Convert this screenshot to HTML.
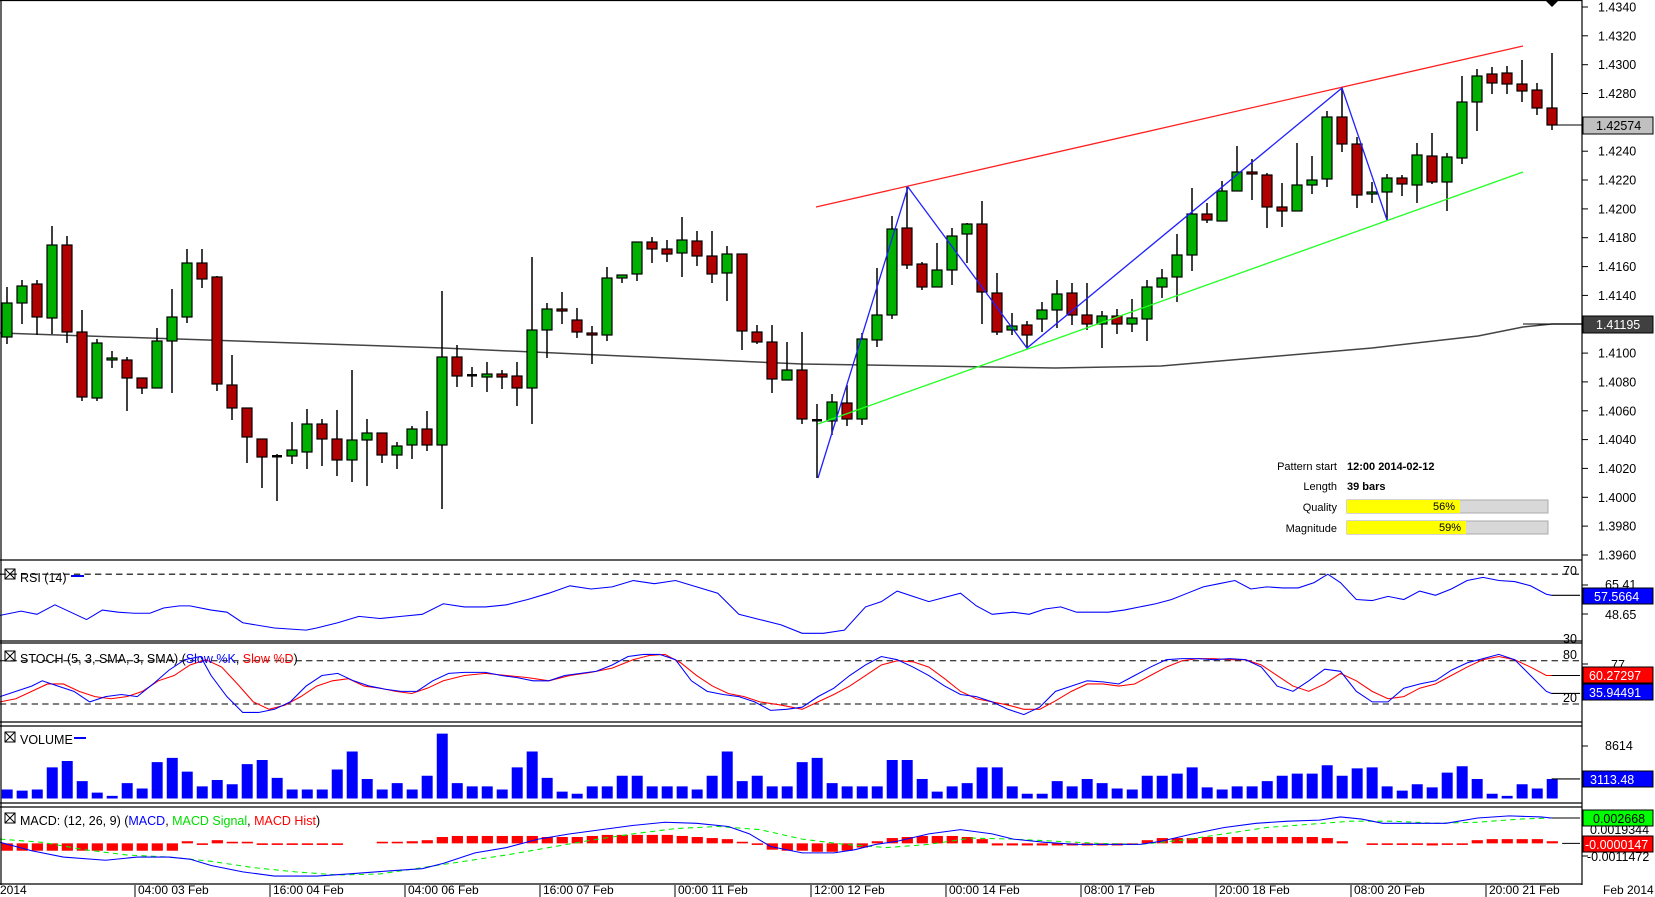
<!DOCTYPE html>
<html><head><meta charset="utf-8">
<style>
html,body{margin:0;padding:0;background:#fff;}
svg{display:block;font-family:"Liberation Sans",sans-serif;}
</style></head>
<body>
<svg width="1655" height="897" viewBox="0 0 1655 897" xmlns="http://www.w3.org/2000/svg">
<rect x="0" y="0" width="1655" height="897" fill="#fff"/>
<polyline points="0,333 443,348 802,364 1055,368 1161,366 1372,348 1478,336 1523,327 1552,324 1582,324" fill="none" stroke="#444" stroke-width="1.5"/>
<path fill="none" stroke="#000" stroke-width="1.5" d="M7 287V344M22 280V324M37 280V335M52 226V334M67 236V343M82 310V401M97 339V401M112 351V368M127 357V411M142 378V394M157 328V388M172 289V393M187 249V323M202 249V288M217 276V391M232 355V420M247 408V463M262 439V488M277 454V501M292 422V464M307 409V469M322 419V466M337 410V476M352 370V482M367 419V486M382 433V463M397 442V469M412 426V459M427 411V451M442 291V509M457 345V387M472 367V387M487 362V392M502 370V389M517 362V406M532 257V424M547 303V358M562 292V324M577 308V338M592 326V364M607 267V341M622 275V283M637 242V281M652 237V263M667 240V262M682 217V277M697 231V266M712 231V283M727 246V301M742 254V350M757 325V344M772 325V393M787 342V380M802 332V424M817 404V478M832 394V435M847 385V426M862 333V425M877 268V347M892 216V319M907 187V269M922 262V290M937 243V287M952 228V285M967 223V263M982 201V324M997 273V335M1012 313V335M1027 321V348M1042 302V332M1057 280V328M1072 283V325M1087 283V330M1102 311V348M1117 309V334M1132 299V332M1147 280V341M1162 269V298M1177 234V302M1192 188V271M1207 203V223M1222 181V221M1237 146V191M1252 159V200M1267 173V228M1282 183V227M1297 143V211M1312 156V194M1327 111V187M1342 87V152M1357 137V208M1372 182V203M1387 174V220M1402 175V196M1417 143V203M1432 133V184M1447 153V211M1462 76V164M1477 69V131M1492 67V94M1507 66V94M1522 60V102M1537 83V115M1552 53V130"/>
<g fill="#00b000" stroke="#000" stroke-width="1.2">
<rect x="2" y="303" width="10" height="34"/><rect x="17" y="286" width="10" height="17"/><rect x="47" y="245" width="10" height="73"/><rect x="92" y="343" width="10" height="55"/><rect x="107" y="358" width="10" height="2"/><rect x="152" y="341" width="10" height="47"/><rect x="167" y="317" width="10" height="24"/><rect x="182" y="263" width="10" height="54"/><rect x="287" y="450" width="10" height="6"/><rect x="302" y="424" width="10" height="28"/><rect x="347" y="440" width="10" height="20"/><rect x="362" y="433" width="10" height="7"/><rect x="392" y="446" width="10" height="9"/><rect x="407" y="429" width="10" height="16"/><rect x="437" y="357" width="10" height="88"/><rect x="482" y="374" width="10" height="3"/><rect x="527" y="330" width="10" height="58"/><rect x="542" y="309" width="10" height="21"/><rect x="602" y="278" width="10" height="57"/><rect x="617" y="275" width="10" height="3"/><rect x="632" y="242" width="10" height="32"/><rect x="677" y="240" width="10" height="13"/><rect x="722" y="254" width="10" height="19"/><rect x="782" y="370" width="10" height="10"/><rect x="827" y="402" width="10" height="19"/><rect x="857" y="339" width="10" height="80"/><rect x="872" y="315" width="10" height="25"/><rect x="887" y="229" width="10" height="86"/><rect x="932" y="270" width="10" height="17"/><rect x="947" y="236" width="10" height="34"/><rect x="962" y="224" width="10" height="10"/><rect x="1007" y="326" width="10" height="4"/><rect x="1037" y="310" width="10" height="9"/><rect x="1052" y="294" width="10" height="16"/><rect x="1097" y="316" width="10" height="8"/><rect x="1127" y="318" width="10" height="6"/><rect x="1142" y="287" width="10" height="32"/><rect x="1157" y="278" width="10" height="9"/><rect x="1172" y="255" width="10" height="22"/><rect x="1187" y="214" width="10" height="41"/><rect x="1217" y="191" width="10" height="30"/><rect x="1232" y="172" width="10" height="19"/><rect x="1292" y="185" width="10" height="26"/><rect x="1307" y="180" width="10" height="5"/><rect x="1322" y="117" width="10" height="62"/><rect x="1367" y="192" width="10" height="2"/><rect x="1382" y="178" width="10" height="14"/><rect x="1412" y="155" width="10" height="30"/><rect x="1442" y="157" width="10" height="25"/><rect x="1457" y="102" width="10" height="56"/><rect x="1472" y="76" width="10" height="26"/>
</g>
<g fill="#b00000" stroke="#000" stroke-width="1.2">
<rect x="32" y="284" width="10" height="33"/><rect x="62" y="245" width="10" height="87"/><rect x="77" y="332" width="10" height="65"/><rect x="122" y="360" width="10" height="18"/><rect x="137" y="378" width="10" height="10"/><rect x="197" y="263" width="10" height="16"/><rect x="212" y="277" width="10" height="107"/><rect x="227" y="385" width="10" height="23"/><rect x="242" y="408" width="10" height="29"/><rect x="257" y="439" width="10" height="18"/><rect x="317" y="424" width="10" height="15"/><rect x="332" y="439" width="10" height="21"/><rect x="377" y="433" width="10" height="22"/><rect x="422" y="429" width="10" height="16"/><rect x="452" y="357" width="10" height="19"/><rect x="497" y="374" width="10" height="3"/><rect x="512" y="376" width="10" height="12"/><rect x="557" y="309" width="10" height="2"/><rect x="572" y="320" width="10" height="12"/><rect x="587" y="333" width="10" height="2"/><rect x="647" y="242" width="10" height="7"/><rect x="662" y="249" width="10" height="5"/><rect x="692" y="241" width="10" height="15"/><rect x="707" y="256" width="10" height="18"/><rect x="737" y="254" width="10" height="77"/><rect x="752" y="332" width="10" height="10"/><rect x="767" y="342" width="10" height="37"/><rect x="797" y="370" width="10" height="49"/><rect x="842" y="403" width="10" height="16"/><rect x="902" y="228" width="10" height="37"/><rect x="917" y="264" width="10" height="23"/><rect x="977" y="224" width="10" height="68"/><rect x="992" y="293" width="10" height="39"/><rect x="1022" y="325" width="10" height="10"/><rect x="1067" y="293" width="10" height="22"/><rect x="1082" y="315" width="10" height="9"/><rect x="1112" y="316" width="10" height="8"/><rect x="1202" y="214" width="10" height="6"/><rect x="1247" y="172" width="10" height="2"/><rect x="1262" y="175" width="10" height="32"/><rect x="1277" y="207" width="10" height="4"/><rect x="1337" y="117" width="10" height="27"/><rect x="1352" y="144" width="10" height="51"/><rect x="1397" y="178" width="10" height="6"/><rect x="1427" y="156" width="10" height="26"/><rect x="1487" y="74" width="10" height="9"/><rect x="1502" y="73" width="10" height="11"/><rect x="1517" y="84" width="10" height="7"/><rect x="1532" y="90" width="10" height="18"/><rect x="1547" y="108" width="10" height="17"/>
</g>
<g fill="#000"><rect x="272" y="455" width="10" height="2.5"/><rect x="467" y="374" width="10" height="2.5"/><rect x="812" y="419" width="10" height="2.5"/></g>
<line x1="816" y1="207" x2="1523" y2="46" stroke="#ff2020" stroke-width="1.3"/>
<line x1="818" y1="424" x2="1523" y2="172" stroke="#20ff20" stroke-width="1.3"/>
<polyline points="818,478 908,187 1027,348 1342,88 1387,220" fill="none" stroke="#2020ff" stroke-width="1.3"/>
<line x1="1552" y1="125" x2="1582" y2="125" stroke="#000"/><line x1="1523" y1="324" x2="1582" y2="324" stroke="#000"/>

<!-- indicators (scaled coords) -->
<g transform="scale(1.0555)">
<line x1="0" y1="544" x2="1497" y2="544" stroke="#000" stroke-dasharray="6,4"/>
<polyline fill="none" stroke="#0000ff" stroke-width="1" points="0,583 20,579 35,582 52,573 67,580 82,587 97,578 112,580 127,581 142,581 155,576 170,574 180,574 200,578 215,580 230,590 260,595 290,597 300,595 320,590 340,584 360,586 380,584 400,582 420,572 440,575 460,575 480,573 500,568 520,562 540,555 560,558 580,556 600,550 620,553 640,550 660,556 680,562 700,582 720,587 740,592 760,600 780,600 800,597 820,575 835,570 850,560 865,565 880,570 895,566 910,562 925,574 940,582 960,580 975,582 990,577 1005,575 1020,580 1035,580 1050,580 1065,578 1080,575 1095,572 1110,568 1125,562 1140,556 1155,553 1170,550 1185,558 1200,556 1215,557 1230,557 1245,552 1258,544 1270,552 1285,568 1300,569 1315,565 1330,568 1345,560 1360,564 1375,558 1390,550 1405,547 1420,550 1435,551 1450,555 1465,563 1470,564"/>
<line x1="1470" y1="564" x2="1497" y2="564" stroke="#000"/>
<line x1="0" y1="626" x2="1497" y2="626" stroke="#000" stroke-dasharray="6,4"/><line x1="0" y1="667" x2="1497" y2="667" stroke="#000" stroke-dasharray="6,4"/>
<polyline fill="none" stroke="#ff0000" stroke-width="1" points="0,665 15,662 30,655 45,648 60,648 75,655 90,660 105,662 120,660 135,655 150,645 165,640 180,630 195,625 210,632 225,648 240,665 255,672 270,668 285,660 300,650 315,645 330,643 345,650 360,652 375,655 390,657 405,652 420,645 440,640 460,638 480,640 500,642 520,645 540,640 560,637 580,633 600,625 615,621 630,620 645,628 660,640 675,650 690,657 705,660 720,665 740,668 760,672 775,665 790,658 805,650 820,640 835,630 850,626 865,627 880,632 895,643 910,655 925,662 940,665 955,668 970,672 985,672 1000,664 1015,655 1030,648 1045,648 1060,650 1075,648 1090,640 1105,632 1120,626 1135,624 1150,624 1165,625 1180,625 1195,630 1210,640 1225,650 1240,655 1255,648 1270,638 1285,645 1300,655 1315,662 1330,660 1345,652 1360,648 1375,640 1390,632 1405,625 1420,622 1435,625 1450,632 1465,640 1470,640"/>
<polyline fill="none" stroke="#0000ff" stroke-width="1" points="0,660 15,655 30,650 40,645 55,650 70,655 85,665 100,660 115,658 130,660 145,648 160,635 175,625 190,622 200,640 215,660 230,675 245,675 260,672 275,665 290,650 305,640 320,638 335,645 350,650 365,653 380,655 395,655 410,645 425,638 440,637 460,637 475,640 490,642 505,645 520,645 535,640 550,638 565,636 580,630 595,622 610,620 625,620 640,625 655,645 670,655 685,658 700,660 715,665 730,673 745,672 760,670 775,660 790,652 805,640 820,630 835,622 850,625 865,632 880,640 895,650 910,658 925,660 940,665 955,672 970,677 985,670 1000,655 1015,650 1030,645 1045,646 1060,648 1075,640 1090,632 1105,625 1120,624 1135,624 1150,625 1165,624 1180,625 1195,632 1210,650 1225,655 1240,645 1255,634 1270,636 1285,655 1300,665 1315,665 1330,652 1345,648 1360,645 1375,635 1390,628 1405,624 1420,620 1435,625 1450,640 1465,655 1470,657"/>
<line x1="1470" y1="640" x2="1497" y2="640" stroke="#000"/><line x1="1470" y1="657" x2="1497" y2="657" stroke="#000"/>
<path fill="#0000ff" d="M1.6 748h10.4V756.5h-10.4zM15.8 749h10.4V756.5h-10.4zM30.1 748h10.4V756.5h-10.4zM44.3 727h10.4V756.5h-10.4zM58.5 721h10.4V756.5h-10.4zM72.7 740h10.4V756.5h-10.4zM86.9 751h10.4V756.5h-10.4zM101.1 754h10.4V756.5h-10.4zM115.3 742h10.4V756.5h-10.4zM129.5 747h10.4V756.5h-10.4zM143.7 722h10.4V756.5h-10.4zM158 718h10.4V756.5h-10.4zM172.2 731h10.4V756.5h-10.4zM186.4 745h10.4V756.5h-10.4zM200.6 739h10.4V756.5h-10.4zM214.8 743h10.4V756.5h-10.4zM229 724h10.4V756.5h-10.4zM243.2 720h10.4V756.5h-10.4zM257.4 737h10.4V756.5h-10.4zM271.6 748h10.4V756.5h-10.4zM285.9 748h10.4V756.5h-10.4zM300.1 748h10.4V756.5h-10.4zM314.3 729h10.4V756.5h-10.4zM328.5 712h10.4V756.5h-10.4zM342.7 738h10.4V756.5h-10.4zM356.9 748h10.4V756.5h-10.4zM371.1 742h10.4V756.5h-10.4zM385.3 748h10.4V756.5h-10.4zM399.5 735h10.4V756.5h-10.4zM413.8 695h10.4V756.5h-10.4zM428 742h10.4V756.5h-10.4zM442.2 745h10.4V756.5h-10.4zM456.4 745h10.4V756.5h-10.4zM470.6 748h10.4V756.5h-10.4zM484.8 727h10.4V756.5h-10.4zM499 712h10.4V756.5h-10.4zM513.2 737h10.4V756.5h-10.4zM527.4 750h10.4V756.5h-10.4zM541.6 752h10.4V756.5h-10.4zM555.9 745h10.4V756.5h-10.4zM570.1 745h10.4V756.5h-10.4zM584.3 735h10.4V756.5h-10.4zM598.5 735h10.4V756.5h-10.4zM612.7 745h10.4V756.5h-10.4zM626.9 745h10.4V756.5h-10.4zM641.1 745h10.4V756.5h-10.4zM655.3 748h10.4V756.5h-10.4zM669.5 735h10.4V756.5h-10.4zM683.8 712h10.4V756.5h-10.4zM698 740h10.4V756.5h-10.4zM712.2 735h10.4V756.5h-10.4zM726.4 745h10.4V756.5h-10.4zM740.6 745h10.4V756.5h-10.4zM754.8 722h10.4V756.5h-10.4zM769 718h10.4V756.5h-10.4zM783.2 742h10.4V756.5h-10.4zM797.4 745h10.4V756.5h-10.4zM811.7 745h10.4V756.5h-10.4zM825.9 745h10.4V756.5h-10.4zM840.1 720h10.4V756.5h-10.4zM854.3 720h10.4V756.5h-10.4zM868.5 738h10.4V756.5h-10.4zM882.7 750h10.4V756.5h-10.4zM896.9 745h10.4V756.5h-10.4zM911.1 742h10.4V756.5h-10.4zM925.3 727h10.4V756.5h-10.4zM939.6 727h10.4V756.5h-10.4zM953.8 745h10.4V756.5h-10.4zM968 752h10.4V756.5h-10.4zM982.2 752h10.4V756.5h-10.4zM996.4 740h10.4V756.5h-10.4zM1010.6 745h10.4V756.5h-10.4zM1024.8 738h10.4V756.5h-10.4zM1039 742h10.4V756.5h-10.4zM1053.2 747h10.4V756.5h-10.4zM1067.5 748h10.4V756.5h-10.4zM1081.7 735h10.4V756.5h-10.4zM1095.9 735h10.4V756.5h-10.4zM1110.1 733h10.4V756.5h-10.4zM1124.3 727h10.4V756.5h-10.4zM1138.5 746h10.4V756.5h-10.4zM1152.7 748h10.4V756.5h-10.4zM1166.9 745h10.4V756.5h-10.4zM1181.1 745h10.4V756.5h-10.4zM1195.4 740h10.4V756.5h-10.4zM1209.6 735h10.4V756.5h-10.4zM1223.8 733h10.4V756.5h-10.4zM1238 733h10.4V756.5h-10.4zM1252.2 725h10.4V756.5h-10.4zM1266.4 735h10.4V756.5h-10.4zM1280.6 728h10.4V756.5h-10.4zM1294.8 727h10.4V756.5h-10.4zM1309 745h10.4V756.5h-10.4zM1323.3 749h10.4V756.5h-10.4zM1337.5 743h10.4V756.5h-10.4zM1351.7 746h10.4V756.5h-10.4zM1365.9 732h10.4V756.5h-10.4zM1380.1 726h10.4V756.5h-10.4zM1394.3 738h10.4V756.5h-10.4zM1408.5 752h10.4V756.5h-10.4zM1422.7 754h10.4V756.5h-10.4zM1436.9 743h10.4V756.5h-10.4zM1451.2 747h10.4V756.5h-10.4zM1465.4 738h10.4V756.5h-10.4z"/>
<line x1="1470" y1="738" x2="1497" y2="738" stroke="#000"/>
<g fill="#ff0000">
<rect x="1.6" y="799" width="10.6" height="7"/><rect x="15.8" y="799" width="10.6" height="7"/><rect x="30.1" y="799" width="10.6" height="7"/><rect x="44.3" y="799" width="10.6" height="7"/><rect x="58.5" y="799" width="10.6" height="7"/><rect x="72.7" y="799" width="10.6" height="7"/><rect x="86.9" y="799" width="10.6" height="7"/><rect x="101.1" y="799" width="10.6" height="7"/><rect x="115.3" y="799" width="10.6" height="7"/><rect x="129.5" y="799" width="10.6" height="7"/><rect x="143.7" y="799" width="10.6" height="7"/><rect x="158" y="799" width="10.6" height="7"/>
<rect x="172.2" y="797" width="10.6" height="2"/><rect x="186.4" y="799" width="10.6" height="1.5"/><rect x="200.6" y="796" width="10.6" height="3"/><rect x="214.8" y="797.5" width="10.6" height="1.5"/><rect x="229" y="797.5" width="10.6" height="1.5"/>
<rect x="243.2" y="799" width="10.6" height="1.5"/><rect x="257.4" y="799" width="10.6" height="1.5"/><rect x="271.6" y="799" width="10.6" height="1.5"/><rect x="285.9" y="799" width="10.6" height="1.5"/><rect x="300.1" y="799" width="10.6" height="1.5"/><rect x="314.3" y="799" width="10.6" height="1.5"/>
<rect x="356.9" y="797.5" width="10.6" height="1.5"/><rect x="371.1" y="797.5" width="10.6" height="1.5"/><rect x="385.3" y="797" width="10.6" height="2"/><rect x="399.5" y="796" width="10.6" height="3"/><rect x="413.8" y="793" width="10.6" height="6"/>
<rect x="428" y="792" width="10.6" height="7"/><rect x="442.2" y="792" width="10.6" height="7"/><rect x="456.4" y="792" width="10.6" height="7"/><rect x="470.6" y="792" width="10.6" height="7"/><rect x="484.8" y="792" width="10.6" height="7"/><rect x="499" y="792" width="10.6" height="7"/>
<rect x="513.2" y="793" width="10.6" height="6"/><rect x="527.4" y="793" width="10.6" height="6"/><rect x="541.6" y="793" width="10.6" height="6"/><rect x="555.9" y="792" width="10.6" height="7"/>
<rect x="570.1" y="791" width="10.6" height="8"/><rect x="584.3" y="791" width="10.6" height="8"/><rect x="598.5" y="791" width="10.6" height="8"/><rect x="612.7" y="791" width="10.6" height="8"/><rect x="626.9" y="791" width="10.6" height="8"/>
<rect x="641.1" y="792" width="10.6" height="7"/><rect x="655.3" y="793" width="10.6" height="6"/><rect x="669.5" y="794" width="10.6" height="5"/><rect x="683.8" y="795" width="10.6" height="4"/><rect x="698" y="797.5" width="10.6" height="1.5"/>
<rect x="712.2" y="799" width="10.6" height="1.5"/><rect x="726.4" y="799" width="10.6" height="6"/><rect x="740.6" y="799" width="10.6" height="7"/><rect x="754.8" y="799" width="10.6" height="7"/><rect x="769" y="799" width="10.6" height="8"/><rect x="783.2" y="799" width="10.6" height="8"/><rect x="797.4" y="799" width="10.6" height="7"/><rect x="811.7" y="799" width="10.6" height="4"/>
<rect x="825.9" y="797" width="10.6" height="2"/><rect x="840.1" y="794" width="10.6" height="5"/><rect x="854.3" y="793" width="10.6" height="6"/><rect x="868.5" y="792" width="10.6" height="7"/><rect x="882.7" y="792" width="10.6" height="7"/><rect x="896.9" y="792" width="10.6" height="7"/><rect x="911.1" y="793" width="10.6" height="6"/><rect x="925.3" y="795" width="10.6" height="4"/>
<rect x="939.6" y="799" width="10.6" height="2"/><rect x="953.8" y="799" width="10.6" height="2"/><rect x="968" y="799" width="10.6" height="2"/><rect x="982.2" y="799" width="10.6" height="2"/><rect x="996.4" y="799" width="10.6" height="2"/><rect x="1010.6" y="799" width="10.6" height="2"/><rect x="1024.8" y="799" width="10.6" height="2"/><rect x="1039" y="799" width="10.6" height="2"/><rect x="1053.2" y="799" width="10.6" height="2"/><rect x="1067.5" y="799" width="10.6" height="1.5"/>
<rect x="1081.7" y="796" width="10.6" height="3"/><rect x="1095.9" y="794" width="10.6" height="5"/><rect x="1110.1" y="794" width="10.6" height="5"/><rect x="1124.3" y="794" width="10.6" height="5"/>
<rect x="1138.5" y="793" width="10.6" height="6"/><rect x="1152.7" y="793" width="10.6" height="6"/><rect x="1166.9" y="793" width="10.6" height="6"/><rect x="1181.1" y="793" width="10.6" height="6"/><rect x="1195.4" y="793" width="10.6" height="6"/><rect x="1209.6" y="793" width="10.6" height="6"/><rect x="1223.8" y="793" width="10.6" height="6"/><rect x="1238" y="793" width="10.6" height="6"/>
<rect x="1252.2" y="794" width="10.6" height="5"/><rect x="1266.4" y="797" width="10.6" height="2"/>
<rect x="1294.8" y="799" width="10.6" height="1.5"/><rect x="1309" y="799" width="10.6" height="1.5"/><rect x="1323.3" y="799" width="10.6" height="1.5"/><rect x="1337.5" y="799" width="10.6" height="1.5"/><rect x="1351.7" y="799" width="10.6" height="2"/><rect x="1365.9" y="799" width="10.6" height="1.5"/><rect x="1380.1" y="799" width="10.6" height="1.5"/>
<rect x="1394.3" y="796" width="10.6" height="3"/><rect x="1408.5" y="795" width="10.6" height="4"/><rect x="1422.7" y="795" width="10.6" height="4"/><rect x="1436.9" y="795" width="10.6" height="4"/><rect x="1451.2" y="795" width="10.6" height="4"/><rect x="1465.4" y="797" width="10.6" height="2"/>
</g>
<polyline fill="none" stroke="#00ee00" stroke-width="1" stroke-dasharray="5,4" points="0,795 40,798 80,805 120,810 160,812 200,816 240,822 280,826 320,829 360,828 400,822 440,816 480,810 520,803 560,796 600,790 640,785 680,783 720,786 760,795 800,800 840,803 880,800 920,794 960,795 1000,797 1040,799 1080,800 1120,796 1160,790 1200,784 1240,781 1280,778 1320,778 1360,780 1400,779 1440,776 1470,775"/>
<polyline fill="none" stroke="#0000ff" stroke-width="1" points="0,798 30,806 60,812 100,815 130,812 160,812 180,814 200,820 230,826 260,830 300,830 330,828 370,825 400,823 420,818 450,808 480,803 510,795 540,790 570,786 600,782 630,779 660,780 690,783 710,790 730,802 760,808 790,808 810,805 830,800 850,797 880,790 910,786 940,790 960,795 990,798 1020,800 1050,800 1080,800 1100,797 1130,790 1160,784 1190,780 1220,778 1250,777 1270,774 1290,776 1310,780 1340,780 1370,780 1400,775 1430,773 1460,774 1470,775"/>
<line x1="1470" y1="775" x2="1497" y2="775" stroke="#000"/><line x1="1480" y1="799" x2="1497" y2="799" stroke="#000"/>
</g>

<!-- frames -->
<g stroke="#000" stroke-width="1.2" fill="none">
<line x1="1" y1="0" x2="1" y2="885"/>
<line x1="0" y1="0.5" x2="1582" y2="0.5"/>
<line x1="1582" y1="0" x2="1582" y2="885"/>
<line x1="0" y1="560" x2="1582" y2="560"/>
<line x1="0" y1="641" x2="1582" y2="641"/>
<line x1="0" y1="643" x2="1582" y2="643"/>
<line x1="0" y1="722" x2="1582" y2="722"/>
<line x1="0" y1="726" x2="1582" y2="726"/>
<line x1="0" y1="803" x2="1582" y2="803"/>
<line x1="0" y1="807" x2="1582" y2="807"/>
<line x1="0" y1="884" x2="1582" y2="884"/>
</g>
<polygon points="1546,1 1558,1 1552,7" fill="#000"/>

<!-- price axis -->
<g font-size="12.5" fill="#000">
<g stroke="#000"><line x1="1582" y1="7" x2="1588" y2="7"/><line x1="1582" y1="35.8" x2="1588" y2="35.8"/><line x1="1582" y1="64.7" x2="1588" y2="64.7"/><line x1="1582" y1="93.5" x2="1588" y2="93.5"/><line x1="1582" y1="151.2" x2="1588" y2="151.2"/><line x1="1582" y1="180" x2="1588" y2="180"/><line x1="1582" y1="208.9" x2="1588" y2="208.9"/><line x1="1582" y1="237.7" x2="1588" y2="237.7"/><line x1="1582" y1="266.6" x2="1588" y2="266.6"/><line x1="1582" y1="295.4" x2="1588" y2="295.4"/><line x1="1582" y1="353.1" x2="1588" y2="353.1"/><line x1="1582" y1="381.9" x2="1588" y2="381.9"/><line x1="1582" y1="410.8" x2="1588" y2="410.8"/><line x1="1582" y1="439.6" x2="1588" y2="439.6"/><line x1="1582" y1="468.4" x2="1588" y2="468.4"/><line x1="1582" y1="497.3" x2="1588" y2="497.3"/><line x1="1582" y1="526.1" x2="1588" y2="526.1"/><line x1="1582" y1="555" x2="1588" y2="555"/></g>
<text x="1598" y="11.5">1.4340</text><text x="1598" y="40.3">1.4320</text><text x="1598" y="69.2">1.4300</text><text x="1598" y="98">1.4280</text><text x="1598" y="155.7">1.4240</text><text x="1598" y="184.5">1.4220</text><text x="1598" y="213.4">1.4200</text><text x="1598" y="242.2">1.4180</text><text x="1598" y="271.1">1.4160</text><text x="1598" y="299.9">1.4140</text><text x="1598" y="357.6">1.4100</text><text x="1598" y="386.4">1.4080</text><text x="1598" y="415.3">1.4060</text><text x="1598" y="444.1">1.4040</text><text x="1598" y="472.9">1.4020</text><text x="1598" y="501.8">1.4000</text><text x="1598" y="530.6">1.3980</text><text x="1598" y="559.5">1.3960</text>
<rect x="1583" y="117" width="70" height="17" fill="#c0c0c0" stroke="#000"/><text x="1596" y="130">1.42574</text>
<rect x="1583" y="316" width="70" height="17" fill="#404040" stroke="#000"/><text x="1596" y="329" fill="#fff">1.41195</text>
</g>

<!-- pattern info -->
<g font-size="11" fill="#000">
<text x="1337" y="470" text-anchor="end">Pattern start</text>
<text x="1347" y="470" font-weight="bold">12:00 2014-02-12</text>
<text x="1337" y="490" text-anchor="end">Length</text>
<text x="1347" y="490" font-weight="bold">39 bars</text>
<text x="1337" y="511" text-anchor="end">Quality</text>
<text x="1337" y="532" text-anchor="end">Magnitude</text>
<rect x="1347" y="500" width="201" height="13" fill="#d8d8d8" stroke="#aaa"/>
<rect x="1347" y="500" width="113" height="13" fill="#ffff00"/>
<text x="1455" y="510" text-anchor="end">56%</text>
<rect x="1347" y="521" width="201" height="13" fill="#d8d8d8" stroke="#aaa"/>
<rect x="1347" y="521" width="119" height="13" fill="#ffff00"/>
<text x="1461" y="531" text-anchor="end">59%</text>
</g>

<!-- panel headers -->
<g font-size="12.5" fill="#000">
<g stroke="#000" fill="none" stroke-width="1"><rect x="5" y="569" width="10" height="10"/><line x1="5" y1="569" x2="15" y2="579"/><line x1="15" y1="569" x2="5" y2="579"/>
<rect x="5" y="651" width="10" height="10"/><line x1="5" y1="651" x2="15" y2="661"/><line x1="15" y1="651" x2="5" y2="661"/>
<rect x="5" y="732" width="10" height="10"/><line x1="5" y1="732" x2="15" y2="742"/><line x1="15" y1="732" x2="5" y2="742"/>
<rect x="5" y="813" width="10" height="10"/><line x1="5" y1="813" x2="15" y2="823"/><line x1="15" y1="813" x2="5" y2="823"/></g>
<text x="20" y="582">RSI (14)</text><line x1="71" y1="576" x2="84" y2="576" stroke="#0000ff" stroke-width="2"/>
<text x="20" y="663">STOCH (5, 3, SMA, 3, SMA) (<tspan fill="#0000ff">Slow %K</tspan>, <tspan fill="#ff0000">Slow %D</tspan>)</text>
<text x="20" y="744">VOLUME</text><line x1="74" y1="738" x2="86" y2="738" stroke="#0000ff" stroke-width="2"/>
<text x="20" y="825">MACD: (12, 26, 9) (<tspan fill="#0000ff">MACD</tspan>, <tspan fill="#00dd00">MACD Signal</tspan>, <tspan fill="#ff0000">MACD Hist</tspan>)</text>
</g>

<!-- indicator right labels -->
<g font-size="12.5" fill="#000">
<text x="1563" y="575">70</text>
<text x="1605" y="589">65.41</text><line x1="1582" y1="585" x2="1588" y2="585" stroke="#000"/>
<text x="1605" y="619">48.65</text><line x1="1582" y1="614" x2="1588" y2="614" stroke="#000"/>
<text x="1563" y="643">30</text>
<rect x="1583" y="588" width="70" height="16" fill="#0000ff" stroke="#000"/><text x="1594" y="601" fill="#fff">57.5664</text>
<text x="1563" y="659">80</text>
<text x="1611" y="669">77</text><line x1="1582" y1="664" x2="1588" y2="664" stroke="#000"/>
<text x="1563" y="702">20</text>
<rect x="1583" y="667" width="70" height="16" fill="#ff0000" stroke="#000"/><text x="1589" y="680" fill="#fff">60.27297</text>
<rect x="1583" y="684" width="70" height="16" fill="#0000ff" stroke="#000"/><text x="1589" y="697" fill="#fff">35.94491</text>
<text x="1605" y="750">8614</text><line x1="1582" y1="746" x2="1588" y2="746" stroke="#000"/>
<rect x="1583" y="771" width="70" height="16" fill="#0000ff" stroke="#000"/><text x="1590" y="784" fill="#fff">3113.48</text>
<text x="1590" y="834">0.0019344</text>
<rect x="1583" y="810" width="70" height="16" fill="#00ff00" stroke="#000"/><text x="1593" y="823">0.002668</text>
<text x="1587" y="861">-0.0011472</text><line x1="1582" y1="856" x2="1588" y2="856" stroke="#000"/>
<rect x="1583" y="836" width="70" height="16" fill="#ff0000" stroke="#000"/><text x="1585" y="849" fill="#fff">-0.0000147</text>
</g>

<!-- x axis -->
<g font-size="12" fill="#000">
<text x="0" y="894">2014</text>
<text x="1603" y="894">Feb 2014</text>
<g stroke="#000"><line x1="135" y1="885" x2="135" y2="897"/><line x1="270" y1="885" x2="270" y2="897"/><line x1="405" y1="885" x2="405" y2="897"/><line x1="540" y1="885" x2="540" y2="897"/><line x1="675" y1="885" x2="675" y2="897"/><line x1="811" y1="885" x2="811" y2="897"/><line x1="946" y1="885" x2="946" y2="897"/><line x1="1081" y1="885" x2="1081" y2="897"/><line x1="1216" y1="885" x2="1216" y2="897"/><line x1="1351" y1="885" x2="1351" y2="897"/><line x1="1486" y1="885" x2="1486" y2="897"/></g>
<text x="138" y="894">04:00 03 Feb</text><text x="273" y="894">16:00 04 Feb</text><text x="408" y="894">04:00 06 Feb</text><text x="543" y="894">16:00 07 Feb</text><text x="678" y="894">00:00 11 Feb</text><text x="814" y="894">12:00 12 Feb</text><text x="949" y="894">00:00 14 Feb</text><text x="1084" y="894">08:00 17 Feb</text><text x="1219" y="894">20:00 18 Feb</text><text x="1354" y="894">08:00 20 Feb</text><text x="1489" y="894">20:00 21 Feb</text>
</g>
</svg>
</body></html>
